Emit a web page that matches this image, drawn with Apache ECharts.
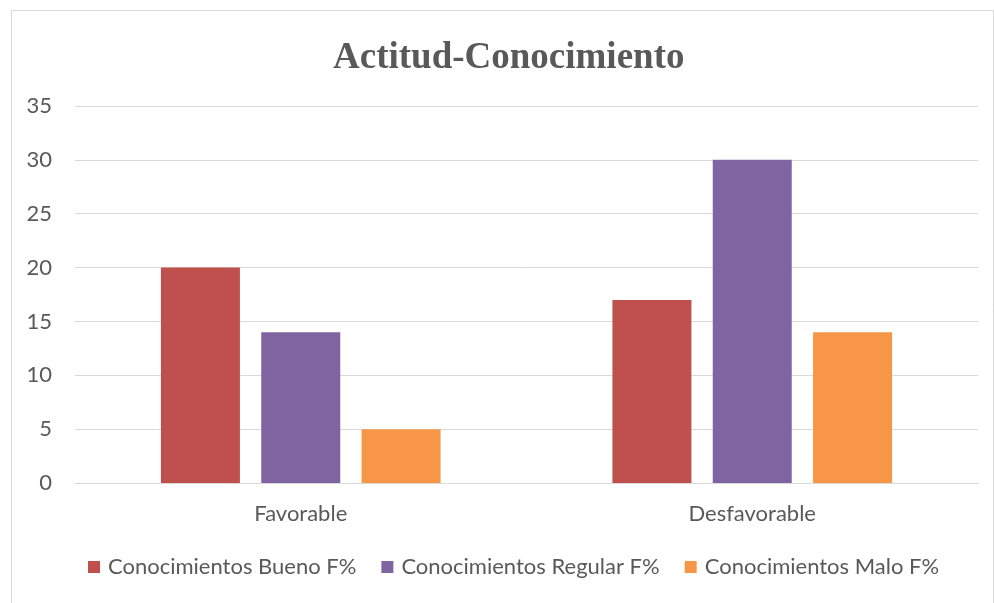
<!DOCTYPE html>
<html>
<head>
<meta charset="utf-8">
<script src="https://cdn.jsdelivr.net/npm/echarts@6/dist/echarts.min.js"></script>
<style>
  html, body { margin: 0; padding: 0; background: #fff; }
  #chart { width: 994px; height: 603px; }
</style>
</head>
<body>
<div id="chart"></div>
<script type="text/javascript">
    // datos
    var categorias = ['Favorable', 'Desfavorable'];
    var bueno = [20, 17];
    var regular = [14, 30];
    var malo = [5, 14];
    var nombres = ['Conocimientos Bueno F%', 'Conocimientos Regular F%', 'Conocimientos Malo F%'];
    var ticksY = [0, 5, 10, 15, 20, 25, 30, 35];

    var myChart = echarts.init(document.getElementById('chart'));
    var option = {
        animation: false,
        backgroundColor: '#fff',
        color: ['#C0504D', '#8064A2', '#F79646'],
        graphic: [{
            type: 'rect',
            shape: { x: 11.5, y: 10.5, width: 982, height: 600 },
            style: { fill: 'none', stroke: '#d9d9d9', lineWidth: 1 },
            silent: true
        }],
        title: {
            text: 'Actitud-Conocimiento',
            left: 328,
            top: 35,
            textStyle: {
                fontFamily: 'Liberation Serif',
                fontWeight: 'bold',
                fontSize: 37,
                color: '#595959'
            }
        },
        legend: {
            bottom: 20,
            left: 83,
            itemWidth: 12,
            itemHeight: 12,
            itemGap: 25,
            icon: 'rect',
            textStyle: { fontFamily: 'Lato', fontSize: 22, color: '#595959', padding: [0, 0, 0, 3] },
            data: nombres
        },
        grid: {
            left: 75,
            right: 16,
            top: 106,
            bottom: 120
        },
        xAxis: {
            type: 'category',
            data: categorias,
            axisTick: { show: false },
            axisLine: { lineStyle: { color: '#d9d9d9', width: 1 } },
            axisLabel: { fontFamily: 'Lato', fontSize: 22, color: '#595959', margin: 20 }
        },
        yAxis: {
            type: 'value',
            min: ticksY[0],
            max: ticksY[ticksY.length - 1],
            interval: 5,
            axisLine: { show: false },
            axisTick: { show: false },
            splitLine: { lineStyle: { color: '#d9d9d9', width: 1 } },
            axisLabel: { fontFamily: 'Lato', fontSize: 22, color: '#595959', margin: 23 }
        },
        series: [
            { name: nombres[0], type: 'bar', data: bueno, barWidth: 79, barGap: '27%' },
            { name: nombres[1], type: 'bar', data: regular, barWidth: 79, barGap: '27%' },
            { name: nombres[2], type: 'bar', data: malo, barWidth: 79, barGap: '27%' }
        ]
    };
    myChart.setOption(option);
</script>
</body>
</html>
